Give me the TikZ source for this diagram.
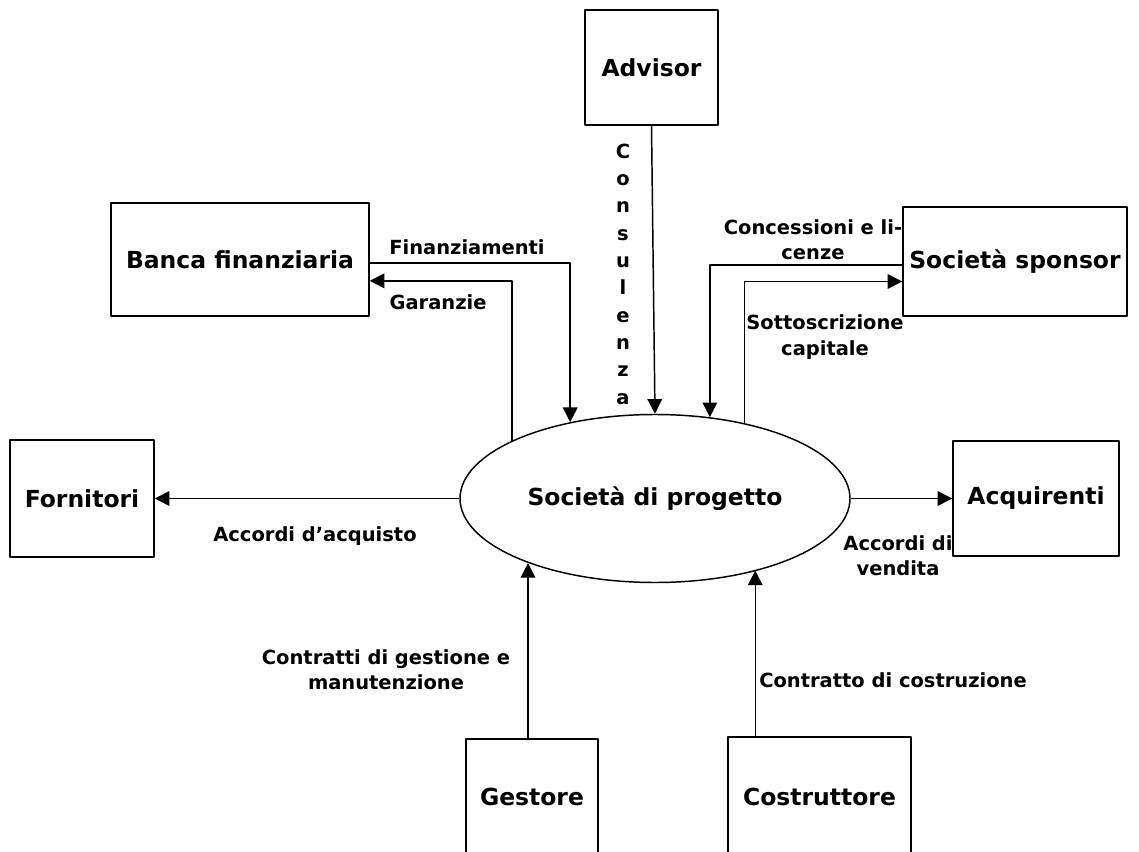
\documentclass[tikz,border=0pt]{standalone}
\usepackage{fontspec}
\setmainfont{DejaVu Sans}
\usetikzlibrary{arrows.meta,shapes.geometric}
\begin{document}
\begin{tikzpicture}[x=0.75pt, y=-0.75pt, line join=round,
		>={Triangle[length=11pt,width=11pt]},
		box/.style={draw, line width=1.1pt, inner sep=0pt, font=\bfseries\fontsize{17.6}{20}\selectfont},
		flow/.style={->, line width=1.1pt},
		lbl/.style={align=center, inner sep=0pt, font=\bfseries\fontsize{14.6}{19}\selectfont}]
		\useasboundingbox (0,0) rectangle (1139,852);
		\clip (0,0) rectangle (1139,852);
		% entities
		\node[box, minimum width=99.75pt, minimum height=86.25pt] (advisor) at (651.5,67.5) {Advisor};
		\node[box, minimum width=193.5pt, minimum height=84.75pt] (banca) at (240,259.5) {Banca finanziaria};
		\node[box, minimum width=168pt, minimum height=81.75pt] (sponsor) at (1015,261.5) {Società sponsor};
		\node[box, minimum width=108pt, minimum height=87.75pt] (fornitori) at (82,498.5) {Fornitori};
		\node[box, minimum width=124.5pt, minimum height=86.25pt] (acquirenti) at (1036,498.5) {Acquirenti};
		\node[box, minimum width=99pt, minimum height=87pt] (gestore) at (532,797) {Gestore};
		\node[box, minimum width=137.25pt, minimum height=89.25pt] (costruttore) at (819.5,796.5) {Costruttore};
		\node[box, ellipse, minimum width=292.5pt, minimum height=126pt] (prog) at (655,498.5) {Società di progetto};
		% flows
		\draw[flow] (advisor.south) -- (prog.north);
		\draw[flow] ([yshift=-2.5pt]banca.east) -| (prog.138);
		\draw[flow] (prog.158) |- ([yshift=-16pt]banca.east);
		\draw[flow] ([yshift=-2.6pt]sponsor.west) -| (prog.56);
		\draw[flow] (prog.40) |- ([yshift=-15pt]sponsor.west);
		\draw[flow] (prog.west) -- (fornitori.east);
		\draw[flow] (prog.east) -- (acquirenti.west);
		\draw[flow] ([xshift=-3pt]gestore.north) coordinate (g0) -- (g0 |- prog.207);
		\draw[flow] ([xshift=21pt]costruttore.north west) coordinate (c0) -- (c0 |- prog.-35);
		% labels
		\node[lbl, font=\bfseries\fontsize{14.6}{20.5}\selectfont] (consulenza) at (623,274) {C\\o\\n\\s\\u\\l\\e\\n\\z\\a};
		\node[lbl] (finanz) at (467,247) {Finanziamenti};
		\node[lbl] (garanzie) at (438,302) {Garanzie};
		\node[lbl] (concess) at (813,240) {Concessioni e li-\\cenze};
		\node[lbl] (sottoscr) at (825,337) {Sottoscrizione\\capitale};
		\node[lbl] (acquisto) at (315,536) {Accordi d’acquisto};
		\node[lbl] (vendita) at (898,556) {Accordi di\\vendita};
		\node[lbl] (gestione) at (386,670) {Contratti di gestione e\\manutenzione};
		\node[lbl] (costruz) at (893,680) {Contratto di costruzione};
\end{tikzpicture}
\end{document}
